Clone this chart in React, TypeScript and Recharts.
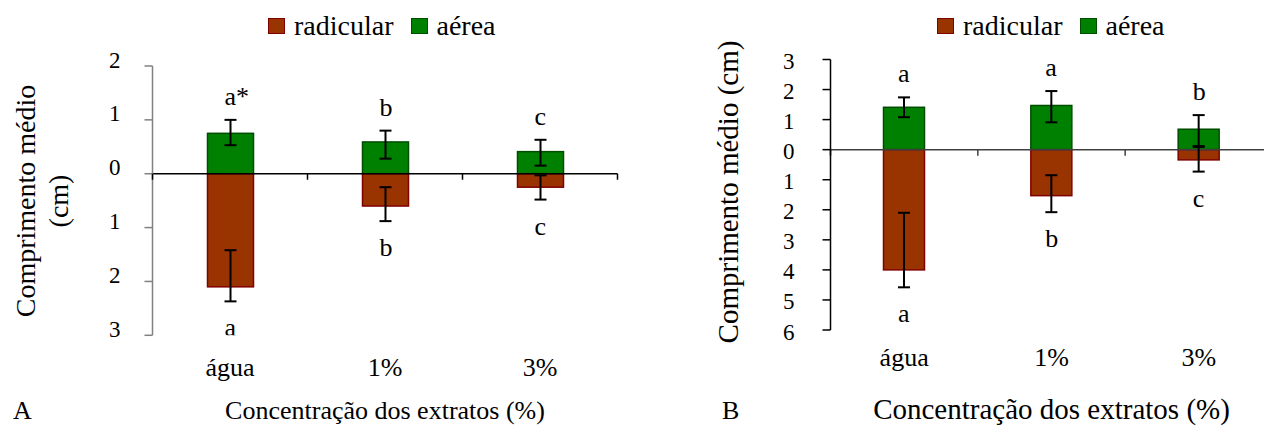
import React from "react";
import {
  BarChart,
  Bar,
  XAxis,
  YAxis,
  ErrorBar,
  ReferenceLine,
  Legend,
} from "recharts";

const FONTE = "Liberation Serif, Times New Roman, serif";

const categorias = ["água", "1%", "3%"];

// painel A
const aereaA = [0.75, 0.59, 0.41];
const aereaAMin = [0.53, 0.28, 0.15];
const aereaAMax = [1.0, 0.8, 0.63];
const radicularA = [-2.1, -0.6, -0.25];
const radicularAMin = [-2.37, -0.88, -0.48];
const radicularAMax = [-1.42, -0.25, -0.03];
const letrasAereaA = ["a*", "b", "c"];
const letrasRadicularA = ["a", "b", "c"];
const ticksA = [-3, -2, -1, 0, 1, 2];

// painel B
const aereaB = [1.41, 1.47, 0.68];
const aereaBMin = [1.08, 0.91, 0.09];
const aereaBMax = [1.74, 1.95, 1.15];
const radicularB = [-4.0, -1.53, -0.34];
const radicularBMin = [-4.58, -2.08, -0.73];
const radicularBMax = [-2.1, -0.85, 0.12];
const letrasAereaB = ["a", "a", "b"];
const letrasRadicularB = ["a", "b", "c"];
const ticksB = [-6, -5, -4, -3, -2, -1, 0, 1, 2, 3];

const series = [
  { key: "radicular", nome: "radicular", fill: "#993300", stroke: "#800000" },
  { key: "aerea", nome: "aérea", fill: "#008000", stroke: "#004d00" },
];

function montarDados(
  aerea: number[],
  aereaMin: number[],
  aereaMax: number[],
  radicular: number[],
  radicularMin: number[],
  radicularMax: number[],
  letrasAerea: string[],
  letrasRadicular: string[]
) {
  return categorias.map((cat, i) => ({
    cat,
    aerea: aerea[i],
    aereaErr: [aerea[i] - aereaMin[i], aereaMax[i] - aerea[i]],
    radicular: radicular[i],
    radicularErr: [radicular[i] - radicularMin[i], radicularMax[i] - radicular[i]],
    letraAerea: letrasAerea[i],
    letraRadicular: letrasRadicular[i],
  }));
}

const dadosA = montarDados(aereaA, aereaAMin, aereaAMax, radicularA, radicularAMin, radicularAMax, letrasAereaA, letrasRadicularA);
const dadosB = montarDados(aereaB, aereaBMin, aereaBMax, radicularB, radicularBMin, radicularBMax, letrasAereaB, letrasRadicularB);

// barra + letra de significancia acima/abaixo da barra de erro
function barraComLetra(campo: string, acima: boolean, fonte: number) {
  return (props: any) => {
    const { x, y, width, height, fill, stroke, payload } = props;
    const h = Math.abs(height);
    const topo = Math.min(y, y + height);
    const v = payload[campo];
    const err = payload[campo + "Err"];
    const ppu = v !== 0 ? h / Math.abs(v) : 0;
    const cx = x + width / 2;
    const letra = acima ? payload.letraAerea : payload.letraRadicular;
    const ly = acima ? topo - err[1] * ppu - 15 : topo + h + err[0] * ppu + 35;
    return (
      <g>
        <rect x={x} y={topo} width={width} height={h} fill={fill} stroke={stroke} strokeWidth={1.5} />
        <text x={cx - 6} y={ly} style={{ fontFamily: FONTE }} fontSize={fonte} fill="#000">
          {letra}
        </text>
      </g>
    );
  };
}

function Legenda() {
  return (
    <div style={{ display: "flex", alignItems: "center", fontFamily: FONTE, fontSize: 28, lineHeight: 1, color: "#000", whiteSpace: "nowrap" }}>
      {series.map((s, i) => (
        <div key={s.key} style={{ display: "flex", alignItems: "center", marginRight: i === 0 ? 17 : 0 }}>
          <span style={{ width: 15, height: 14, background: s.fill, border: `1.5px solid ${s.stroke}`, marginRight: 9 }} />
          <span>{s.nome}</span>
        </div>
      ))}
    </div>
  );
}

type Config = {
  dados: any[];
  ticks: number[];
  dominio: [number, number];
  esquerda: number;
  largura: number;
  topo: number;
  base: number;
  plotEsq: number;
  plotLarg: number;
  barra: number;
  eixoCor: string;
  zeroCor: string;
  tickMargem: number;
  tickDy: number;
  catDy: number;
  legendaX: number;
  tituloY: string[];
  tituloYX: number[];
  tituloYCentro: number;
  tituloYFonte: number;
  tituloXFonte: number;
  letraPainel: string;
  letraPainelX: number;
};

const ALTURA = 426;

// posicoes x dentro de cada painel (relativas ao proprio grafico)
function Painel({ c }: { c: Config }) {
  const [min, max] = c.dominio;
  const zeroY = c.topo + ((c.base - c.topo) * max) / (max - min);
  const banda = c.plotLarg / categorias.length;
  const cy = c.tituloYCentro;

  const TickCat = (p: any) => {
    const marcas = [p.x + banda / 2];
    if (p.index === 0) marcas.push(p.x - banda / 2);
    return (
      <g>
        {marcas.map((mx, k) => (
          <line key={k} x1={mx} x2={mx} y1={zeroY} y2={zeroY + 6} stroke={k === 1 ? "#000" : c.zeroCor} strokeWidth={1.5} />
        ))}
        <text x={p.x} y={c.base} dy={c.catDy} textAnchor="middle" style={{ fontFamily: FONTE }} fontSize={26} fill="#000">
          {p.payload.value}
        </text>
      </g>
    );
  };

  const TickY = (p: any) => (
    <text x={p.x} y={p.y} dy={c.tickDy} textAnchor="end" style={{ fontFamily: FONTE }} fontSize={23} fill="#000">
      {Math.abs(p.payload.value)}
    </text>
  );

  const TituloY = () => (
    <g>
      {c.tituloY.map((linha, k) => (
        <g key={k} transform={`translate(${c.tituloYX[k]}, ${cy}) rotate(-90)`}>
          <text x={0} y={0} textAnchor="middle" style={{ fontFamily: FONTE }} fontSize={c.tituloYFonte} fill="#000">
            {linha}
          </text>
        </g>
      ))}
    </g>
  );

  const TituloX = () => (
    <g>
      <text x={c.plotEsq + c.plotLarg / 2} y={419} textAnchor="middle" style={{ fontFamily: FONTE }} fontSize={c.tituloXFonte} fill="#000">
        Concentração dos extratos (%)
      </text>
      <text x={c.letraPainelX} y={419} style={{ fontFamily: FONTE }} fontSize={26} fill="#000">
        {c.letraPainel}
      </text>
    </g>
  );

  return (
    <div style={{ position: "absolute", left: c.esquerda, top: 0 }}>
      <BarChart
        width={c.largura}
        height={ALTURA}
        data={c.dados}
        stackOffset="sign"
        margin={{ top: c.topo, right: c.largura - c.plotEsq - c.plotLarg, bottom: 0, left: 0 }}
      >
        <XAxis
          dataKey="cat"
          height={ALTURA - c.base}
          axisLine={false}
          tickLine={false}
          tickSize={0}
          tickMargin={0}
          interval={0}
          tick={TickCat}
          label={TituloX}
        />
        <YAxis
          type="number"
          domain={c.dominio}
          ticks={c.ticks}
          interval={0}
          allowDataOverflow
          width={c.plotEsq}
          axisLine={{ stroke: c.eixoCor, strokeWidth: 1.5 }}
          tickLine={{ stroke: c.eixoCor, strokeWidth: 1.5 }}
          tickSize={8}
          tickMargin={c.tickMargem}
          tick={TickY}
          label={TituloY}
        />
        <Legend
          layout="horizontal"
          verticalAlign="middle"
          align="center"
          wrapperStyle={{ top: 12, left: c.legendaX, width: "auto" }}
          content={Legenda}
        />
        <ReferenceLine y={0} stroke={c.zeroCor} strokeWidth={1.5} />
        <Bar
          dataKey="aerea"
          name="aérea"
          stackId="s"
          barSize={c.barra}
          fill={series[1].fill}
          stroke={series[1].stroke}
          shape={barraComLetra("aerea", true, 26)}
          isAnimationActive={false}
        >
          <ErrorBar dataKey="aereaErr" direction="y" width={6} stroke="#000" strokeWidth={2} />
        </Bar>
        <Bar
          dataKey="radicular"
          name="radicular"
          stackId="s"
          barSize={c.barra}
          fill={series[0].fill}
          stroke={series[0].stroke}
          shape={barraComLetra("radicular", false, 26)}
          isAnimationActive={false}
        >
          <ErrorBar dataKey="radicularErr" direction="y" width={6} stroke="#000" strokeWidth={2} />
        </Bar>
      </BarChart>
    </div>
  );
}

const configA: Config = {
  dados: dadosA,
  ticks: ticksA,
  dominio: [-3, 2],
  esquerda: 0,
  largura: 625,
  topo: 66,
  base: 335.3,
  plotEsq: 152.5,
  plotLarg: 465,
  barra: 46,
  eixoCor: "#808080",
  zeroCor: "#000",
  tickMargem: 24,
  tickDy: 1.5,
  catDy: 41,
  legendaX: 268,
  tituloY: ["Comprimento médio", "(cm)"],
  tituloYX: [35, 68],
  tituloYCentro: 201,
  tituloYFonte: 28,
  tituloXFonte: 26,
  letraPainel: "A",
  letraPainelX: 13,
};

// o eixo do painel B continua um pouco além da borda direita da figura
const configB: Config = {
  dados: dadosB,
  ticks: ticksB,
  dominio: [-6, 3],
  esquerda: 640,
  largura: 624,
  topo: 59.5,
  base: 330,
  plotEsq: 190.5,
  plotLarg: 442,
  barra: 41,
  eixoCor: "#000",
  zeroCor: "#404040",
  tickMargem: 28,
  tickDy: 9.5,
  catDy: 36,
  legendaX: 297,
  tituloY: ["Comprimento médio (cm)"],
  tituloYX: [98],
  tituloYCentro: 192,
  tituloYFonte: 29,
  tituloXFonte: 29,
  letraPainel: "B",
  letraPainelX: 82,
};

export default function App() {
  return (
    <div style={{ position: "absolute", left: 0, top: 0, width: 1264, height: ALTURA, overflow: "hidden", background: "#fff" }}>
      <Painel c={configA} />
      <Painel c={configB} />
    </div>
  );
}
